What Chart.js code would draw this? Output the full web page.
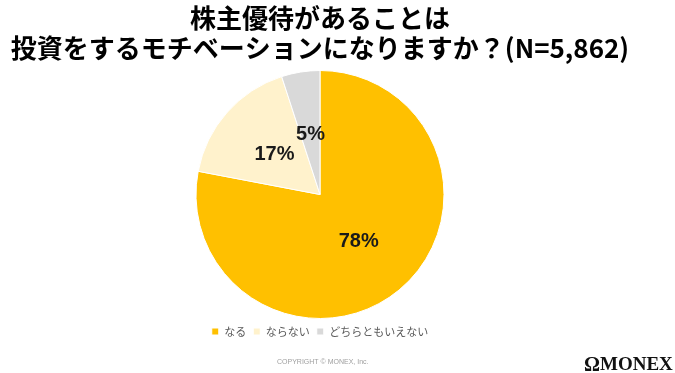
<!DOCTYPE html>
<html><head><meta charset="utf-8">
<script src="https://cdn.jsdelivr.net/npm/chart.js@4.4.1/dist/chart.umd.min.js"></script>
<style>html,body{margin:0;padding:0;background:#fff}#wrap{width:675px;height:373px;position:relative}</style>
</head><body><div id="wrap"><canvas id="c" width="675" height="373"></canvas></div>
<script>
const titleLines = ['株主優待があることは', '投資をするモチベーションになりますか？(N=5,862)'];
const categories = ['なる', 'ならない', 'どちらともいえない'];
const values = [78, 17, 5];
const colors = ['#FFC000', '#FFF2CC', '#D9D9D9'];
const copyrightText = 'COPYRIGHT © MONEX, Inc.';
const logoText = 'MONEX';

const labelPlugin = {
  id: 'sliceLabels',
  afterDatasetsDraw(chart) {
    const ctx = chart.ctx;
    const meta = chart.getDatasetMeta(0);
    ctx.save();
    ctx.font = 'bold 20px "Liberation Sans", Arial, sans-serif';
    ctx.fillStyle = '#1a1a1a';
    ctx.textAlign = 'center';
    ctx.textBaseline = 'middle';
    meta.data.forEach((arc, i) => {
      const p = arc.getProps(['x','y','startAngle','endAngle','outerRadius'], true);
      const mid = (p.startAngle + p.endAngle) / 2;
      const r = p.outerRadius * 0.49;
      ctx.fillText(values[i] + '%', p.x + Math.cos(mid) * r, p.y + Math.sin(mid) * r);
    });
    ctx.restore();
  }
};

const footerPlugin = {
  id: 'footer',
  afterDraw(chart) {
    const ctx = chart.ctx;
    ctx.save();
    ctx.font = '7px "Liberation Sans", Arial, sans-serif';
    ctx.fillStyle = '#a0a0a0';
    ctx.textAlign = 'left';
    ctx.textBaseline = 'middle';
    ctx.fillText(copyrightText, 277, 362);
    ctx.font = 'bold 20px "Liberation Serif", "DejaVu Serif", serif';
    ctx.fillStyle = '#111';
    ctx.textBaseline = 'alphabetic';
    ctx.fillText('Ω', 584, 371);
    ctx.font = 'bold 19px "Liberation Serif", "DejaVu Serif", serif';
    ctx.fillText(logoText, 600, 370);
    ctx.restore();
  }
};

new Chart(document.getElementById('c'), {
  type: 'pie',
  data: {
    labels: categories,
    datasets: [{
      data: values,
      backgroundColor: colors,
      borderColor: '#ffffff',
      borderWidth: 1
    }]
  },
  options: {
    responsive: false,
    animation: false,
    layout: { padding: { left: 0, right: 35, top: 0, bottom: 26 } },
    plugins: {
      tooltip: { enabled: false },
      title: {
        display: true,
        text: titleLines,
        color: '#000',
        font: { family: '"Noto Sans CJK JP", sans-serif', size: 26, weight: 'bold', lineHeight: 1.154 },
        padding: { top: 3, bottom: 7 }
      },
      legend: {
        position: 'bottom',
        labels: {
          boxWidth: 7,
          boxHeight: 7,
          padding: 7,
          color: '#595959',
          font: { family: '"Noto Sans CJK JP", sans-serif', size: 11 }
        }
      }
    }
  },
  plugins: [labelPlugin, footerPlugin]
});
</script>
</body></html>
